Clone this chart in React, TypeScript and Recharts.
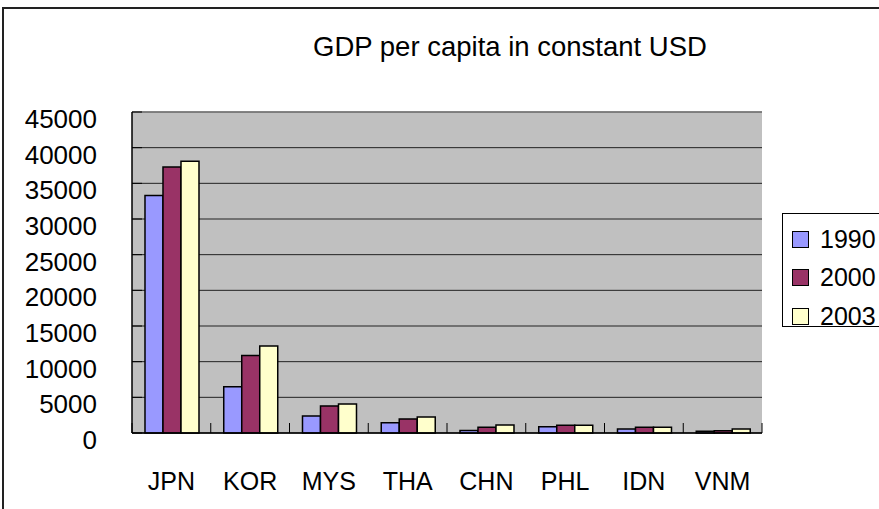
import { Bar, BarChart, CartesianGrid, Legend, ReferenceLine, XAxis, YAxis } from "recharts"

const countries = ["JPN", "KOR", "MYS", "THA", "CHN", "PHL", "IDN", "VNM"]
const gdp1990 = [33300, 6500, 2400, 1450, 350, 880, 550, 250]
const gdp2000 = [37300, 10850, 3800, 1970, 800, 1100, 800, 300]
const gdp2003 = [38100, 12200, 4050, 2240, 1120, 1070, 820, 560]
const yTicks = [0, 5000, 10000, 15000, 20000, 25000, 30000, 35000, 40000, 45000]

const years = [
  { key: "y1990", name: "1990", fill: "#9999FF" },
  { key: "y2000", name: "2000", fill: "#993366" },
  { key: "y2003", name: "2003", fill: "#FFFFCC" },
]

const data = countries.map((name, i) => ({
  name,
  y1990: gdp1990[i],
  y2000: gdp2000[i],
  y2003: gdp2003[i],
}))

const FONT = "'Liberation Sans', Arial, sans-serif"

function XTick(props: any) {
  const { x, y, payload, index, visibleTicksCount } = props
  const half = payload.offset || 0
  return (
    <g>
      <line x1={x - half} x2={x - half} y1={y} y2={y - 10} stroke="#000" />
      {index === visibleTicksCount - 1 && (
        <line x1={x + half} x2={x + half} y1={y} y2={y - 10} stroke="#000" />
      )}
      <text x={x} y={y + 57} textAnchor="middle" fontSize={25} fontFamily={FONT} fill="#000">
        {payload.value}
      </text>
    </g>
  )
}

function YTick(props: any) {
  const { x, y, payload } = props
  return (
    <g>
      <line x1={x} x2={x + 10} y1={y} y2={y} stroke="#000" />
      <text x={x - 35} y={y + 16} textAnchor="end" fontSize={26} fontFamily={FONT} fill="#000">
        {payload.value}
      </text>
    </g>
  )
}

function LegendBox() {
  return (
    <div
      style={{
        width: 120,
        height: 114,
        border: "1px solid #000",
        background: "#fff",
        boxSizing: "border-box",
        paddingTop: 14,
      }}
    >
      {years.map((s) => (
        <div key={s.key} style={{ display: "flex", alignItems: "center", height: 38.5, marginTop: -8, marginBottom: 8 }}>
          <div
            style={{
              width: 15,
              height: 15,
              background: s.fill,
              border: "1px solid #000",
              marginLeft: 9,
              marginRight: 11,
            }}
          />
          <span style={{ fontSize: 25, fontFamily: FONT, color: "#000" }}>{s.name}</span>
        </div>
      ))}
    </div>
  )
}

export default function App() {
  return (
    <div style={{ position: "absolute", left: 0, top: 0, width: 879, height: 509, overflow: "hidden", background: "#fff" }}>
      <div
        style={{
          position: "absolute",
          left: 2,
          top: 7,
          width: 900,
          height: 520,
          border: "2px solid #222",
        }}
      />
      <div
        style={{
          position: "absolute",
          left: 260,
          top: 32,
          width: 500,
          height: 30,
          lineHeight: "30px",
          textAlign: "center",
          fontSize: 27.5,
          fontFamily: FONT,
          color: "#000",
        }}
      >
        GDP per capita in constant USD
      </div>
      <div style={{ position: "absolute", left: 0, top: 0 }}>
        <BarChart
          width={879}
          height={509}
          data={data}
          margin={{ top: 112, right: 117, bottom: 16, left: 32 }}
          barCategoryGap="16.5%"
          barGap={0}
        >
          <CartesianGrid fill="#C0C0C0" fillOpacity={1} stroke="#222" vertical={false} />
          <XAxis
            dataKey="name"
            height={60}
            tickSize={0}
            tickMargin={0}
            tickLine={false}
            axisLine={{ stroke: "#000", strokeWidth: 1.5 }}
            tick={<XTick />}
            interval={0}
          />
          <YAxis
            width={100}
            domain={[0, 45000]}
            ticks={yTicks}
            tickSize={0}
            tickMargin={0}
            tickLine={false}
            axisLine={{ stroke: "#000", strokeWidth: 1.5 }}
            tick={<YTick />}
            interval={0}
          />
          <YAxis
            yAxisId="right"
            orientation="right"
            width={0}
            domain={[0, 45000]}
            tick={false}
            tickLine={false}
            axisLine={{ stroke: "#808080", strokeWidth: 1.5 }}
          />
          <ReferenceLine y={45000} stroke="#808080" strokeWidth={1.5} />
          <Legend
            layout="vertical"
            align="center"
            verticalAlign="middle"
            content={() => <LegendBox />}
            wrapperStyle={{ position: "absolute", left: 782, top: 213, width: 120, height: 114 }}
          />
          {years.map((s) => (
            <Bar
              key={s.key}
              dataKey={s.key}
              name={s.name}
              fill={s.fill}
              stroke="#000"
              strokeWidth={1.5}
              isAnimationActive={false}
            />
          ))}
        </BarChart>
      </div>
    </div>
  )
}
